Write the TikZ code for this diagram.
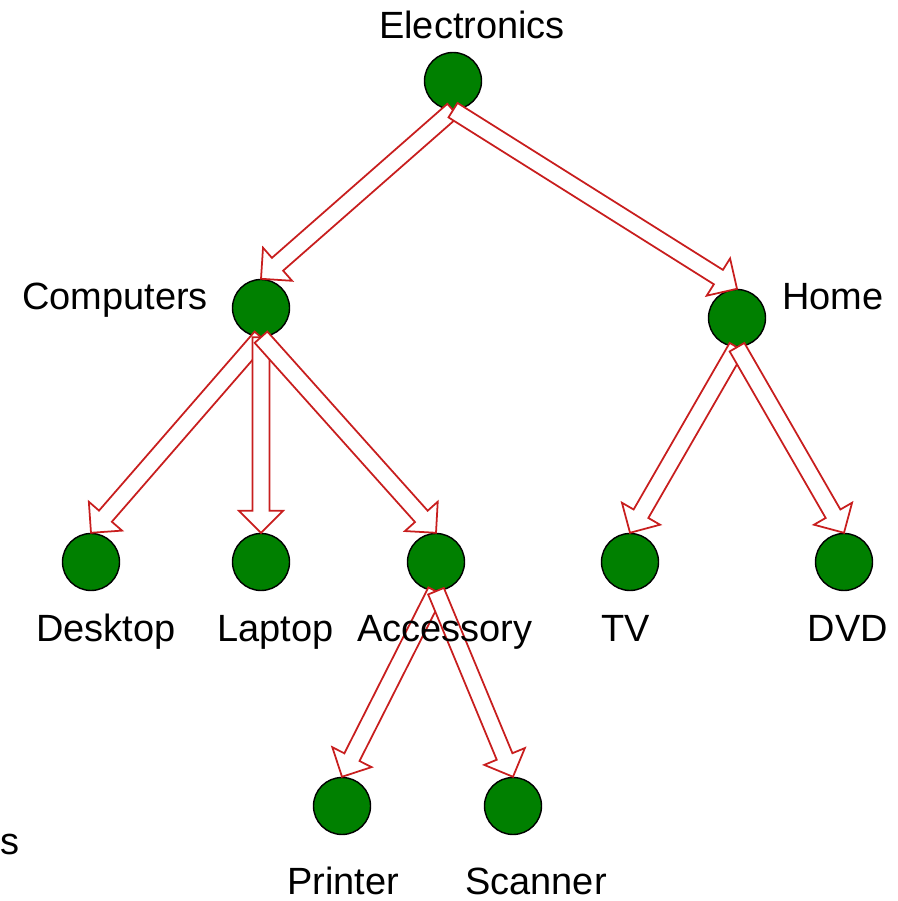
\documentclass[tikz,border=0pt]{standalone}
\usepackage{fontspec}
\setmainfont{Liberation Sans}
\usetikzlibrary{calc}

\definecolor{leafgreen}{RGB}{0,128,0}
\definecolor{arrowred}{RGB}{200,30,30}

\tikzset{
    item/.style={circle, draw=black, thin, fill=leafgreen, minimum size=0.57cm, inner sep=0pt},
    tag/.style={font=\fontsize{10.8}{13}\selectfont, anchor=base, inner sep=0pt},
    arrowbox/.style={draw=arrowred, line width=0.5pt, fill=white, line join=miter},
}

% hollow block arrow from the foot of #1 to the top of #2
\newcommand{\blockarrow}[2]{%
    \coordinate (neck) at ($(#2.north)!0.22cm!(#1.south)$);
    \filldraw[arrowbox] ($(#1.south)!0.085cm!90:(#2.north)$)
        -- ($(neck)!0.085cm!90:(#2.north)$) -- ($(neck)!0.22cm!90:(#2.north)$)
        -- (#2.north)
        -- ($(neck)!0.22cm!-90:(#2.north)$) -- ($(neck)!0.085cm!-90:(#2.north)$)
        -- ($(#1.south)!0.085cm!-90:(#2.north)$) -- cycle;
}

\begin{document}
\begin{tikzpicture}
            \useasboundingbox (0,0) rectangle (8.97,9.01);

            \node[item] (electronics) at (4.53,8.20) {};
            \node[item] (computers) at (2.61,5.93) {};
            \node[item] (home) at (7.37,5.83) {};
            \node[item] (desktop) at (0.91,3.39) {};
            \node[item] (laptop) at (2.61,3.39) {};
            \node[item] (accessory) at (4.36,3.39) {};
            \node[item] (tv) at (6.30,3.39) {};
            \node[item] (dvd) at (8.44,3.39) {};
            \node[item] (printer) at (3.42,0.95) {};
            \node[item] (scanner) at (5.13,0.95) {};

            \blockarrow{electronics}{computers}
            \blockarrow{electronics}{home}
            \blockarrow{computers}{desktop}
            \blockarrow{computers}{laptop}
            \blockarrow{computers}{accessory}
            \blockarrow{home}{tv}
            \blockarrow{home}{dvd}
            \blockarrow{accessory}{printer}
            \blockarrow{accessory}{scanner}

            \node[tag] (electronicstag) at (4.72,8.62) {Electronics};
            \node[tag] (computerstag) at (1.15,5.91) {Computers};
            \node[tag] (hometag) at (8.33,5.91) {Home};
            \node[tag] (desktoptag) at (1.06,2.59) {Desktop};
            \node[tag] (laptoptag) at (2.755,2.59) {Laptop};
            \node[tag] (accessorytag) at (4.45,2.59) {Accessory};
            \node[tag] (tvtag) at (6.26,2.59) {TV};
            \node[tag] (dvdtag) at (8.48,2.59) {DVD};
            \node[tag] (printertag) at (3.43,0.06) {Printer};
            \node[tag] (scannertag) at (5.36,0.06) {Scanner};
            \node[tag, anchor=base east] (estag) at (0.20,0.46) {es};
        \end{tikzpicture}
\end{document}
